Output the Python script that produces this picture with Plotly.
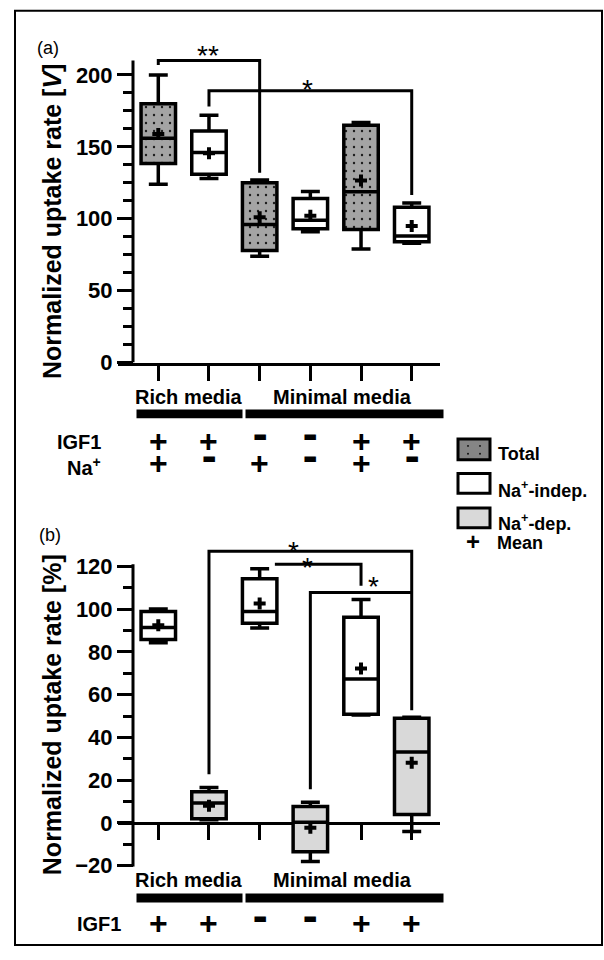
import plotly.graph_objects as go

W, H = 604, 960


def pxx(p):
    return p / W


def pxy(p):
    return 1 - p / H


FONT = "Liberation Sans, Arial, sans-serif"

# ---------------- data ----------------
conditions = ["Rich IGF1+ Na+", "Rich IGF1+ Na-", "Minimal IGF1- Na+",
              "Minimal IGF1- Na-", "Minimal IGF1+ Na+", "Minimal IGF1+ Na-"]
igf1_signs = ["+", "+", "-", "-", "+", "+"]
na_signs = ["+", "-", "+", "-", "+", "-"]
media_groups = ["Rich media", "Minimal media"]

# panel (a): uptake rate [V]
a_type = ["Total", "Na+-indep.", "Total", "Na+-indep.", "Total", "Na+-indep."]
a_min = [124, 128, 74, 91, 79, 83]
a_q1 = [138.5, 131, 78, 93, 92.5, 84]
a_med = [156, 146, 96, 99, 118.7, 88]
a_q3 = [180, 161, 125, 114, 165, 108]
a_max = [200, 172, 127, 119, 167, 111]
a_mean = [159, 145.5, 101, 102, 126.6, 95]

# panel (b): uptake rate [%]
b_type = ["Na+-indep.", "Na+-dep.", "Na+-indep.", "Na+-dep.", "Na+-indep.", "Na+-dep."]
b_min = [84.3, 1.5, 91.2, -18, 50.5, -4]
b_q1 = [85.8, 2, 93.5, -13.4, 50.9, 4]
b_med = [91.5, 9.4, 98.9, 0.3, 67.4, 33.2]
b_q3 = [98.9, 14.6, 114.3, 7.7, 96.3, 49]
b_max = [100.1, 16.6, 118.9, 9.7, 104.6, 49.5]
b_mean = [92.5, 8.1, 102.7, -2.2, 72.3, 28.2]

a_ticks = [0, 50, 100, 150, 200]
b_ticks = [-20, 0, 20, 40, 60, 80, 100, 120]

# significance brackets: (from idx, to idx, bar y, left end y, right end y, label, label x, label y)
brackets_a = [
    (0, 2, 210, 207, 132, "**", 1.98, 218.5),
    (1, 5, 189, 178, 116.5, "*", 3.95, 195.0),
]
brackets_b = [
    (1, 5, 127.1, 22.8, 52.8, "*", 3.66, 130.4),
    (2.3, 4, 121, 121, 111, "*", 3.95, 123.0),
    (3, 5, 107.8, 15.8, 107.8, "*", 5.25, 113.7),
]

# ---------------- layout geometry ----------------
pos = [i + 1 for i in range(len(conditions))]
XDOM = [pxx(118), pxx(440)]
XR = [0.205, 6.558]
A_YR = [0, 225]
A_DOM = [pxy(367.5), pxy(367.5 - 225 * 1.4575)]
B_YR = [-20.5, 134]
B_DOM = [pxy(878.7), pxy(878.7 - 154.5 * 2.1667)]
B_ZERO = B_DOM[0] + (0 - B_YR[0]) / (B_YR[1] - B_YR[0]) * (B_DOM[1] - B_DOM[0])

BOXW = 0.68
FILL = {"Total": "#a4a4a4", "Na+-indep.": "white", "Na+-dep.": "#d9d9d9"}

fig = go.Figure()


def add_panel(types, mins, q1, med, q3, maxs, means, xa, ya):
    for t in dict.fromkeys(types):
        idx = [i for i, tt in enumerate(types) if tt == t]
        xs = [pos[i] for i in idx]
        if t == "Total":
            fig.add_trace(go.Bar(
                x=xs, y=[q3[i] - q1[i] for i in idx], base=[q1[i] for i in idx],
                width=BOXW, xaxis=xa, yaxis=ya, showlegend=False, hoverinfo="skip",
                marker=dict(color=FILL[t], line=dict(width=0),
                            pattern=dict(shape=".", fgcolor="#1a1a1a", bgcolor=FILL[t],
                                         size=8, solidity=0.07, fillmode="replace"))))
        fig.add_trace(go.Box(
            x=xs, q1=[q1[i] for i in idx], median=[med[i] for i in idx],
            q3=[q3[i] for i in idx], lowerfence=[mins[i] for i in idx],
            upperfence=[maxs[i] for i in idx], width=BOXW, whiskerwidth=0.55,
            fillcolor="rgba(0,0,0,0)" if t == "Total" else FILL[t],
            line=dict(color="black", width=3.5), boxpoints=False,
            xaxis=xa, yaxis=ya, showlegend=False, name=t))
    fig.add_trace(go.Scatter(
        x=pos, y=means, mode="markers", xaxis=xa, yaxis=ya, showlegend=False,
        marker=dict(symbol="cross", size=10, color="black", line=dict(width=0))))


add_panel(a_type, a_min, a_q1, a_med, a_q3, a_max, a_mean, "x", "y")
add_panel(b_type, b_min, b_q1, b_med, b_q3, b_max, b_mean, "x2", "y2")

shapes = []
annotations = []


def line_shape(x0, y0, x1, y1, xref, yref, w=3):
    shapes.append(dict(type="line", x0=x0, y0=y0, x1=x1, y1=y1, xref=xref, yref=yref,
                       line=dict(color="black", width=w)))


def text(x, y, s, size, xref="paper", yref="paper", xanchor="center",
         yanchor="middle", weight="bold", angle=0, yshift=-4, family=FONT):
    annotations.append(dict(x=x, y=y, xref=xref, yref=yref, text=s, showarrow=False,
                            xanchor=xanchor, yanchor=yanchor, textangle=angle,
                            yshift=yshift,
                            font=dict(family=family, size=size, color="black", weight=weight)))


def bracket_shapes(brs, xref, yref):
    for (i0, i1, yb, yl, yr, lab, lx, ly) in brs:
        x0 = i0 + 1
        x1 = i1 + 1
        shapes.append(dict(type="path", xref=xref, yref=yref,
                           path=f"M {x0},{yl} L {x0},{yb} L {x1},{yb} L {x1},{yr}",
                           line=dict(color="black", width=3)))
        text(lx, ly, lab, 28, xref=xref, yref=yref, weight="normal", yshift=-7)


bracket_shapes(brackets_a, "x", "y")
bracket_shapes(brackets_b, "x2", "y2")

# y-axis lines (drawn as shapes so they stop at the top tick)
line_shape(pxx(133), 0, pxx(133), 210, "paper", "y", 3)
line_shape(pxx(133), B_YR[0], pxx(133), 121, "paper", "y2", 3)

# frame
shapes.append(dict(type="rect", xref="paper", yref="paper", x0=pxx(15), x1=pxx(602),
                   y0=pxy(958), y1=pxy(11), line=dict(color="black", width=2)))

# media bars + labels
for (bar_y0, bar_y1, lab_y) in [(415, 424, 398), (905.7, 915, 888)]:
    shapes.append(dict(type="rect", xref="paper", yref="paper", x0=pxx(136.5), x1=pxx(242.5),
                       y0=pxy(bar_y1), y1=pxy(bar_y0), fillcolor="black", line=dict(width=0)))
    shapes.append(dict(type="rect", xref="paper", yref="paper", x0=pxx(245.5), x1=pxx(443.5),
                       y0=pxy(bar_y1), y1=pxy(bar_y0), fillcolor="black", line=dict(width=0)))
    text(pxx(188.5), pxy(lab_y), media_groups[0], 20)
    text(pxx(342.5), pxy(lab_y), media_groups[1], 20)

# condition signs
for xr, rows in [("x", [(444, igf1_signs), (466, na_signs)]), ("x2", [(933, igf1_signs)])]:
    for (yy, signs) in rows:
        for p, s in zip(pos, signs):
            if s == "+":
                text(p, pxy(yy), "+", 32, xref=xr, yshift=-3)
            else:
                text(p, pxy(yy - 2), "▬", 15, xref=xr, weight="normal",
                     family="DejaVu Sans", yshift=0)
text(pxx(103), pxy(444), "IGF1", 20, xanchor="right")
text(pxx(103), pxy(466), "Na<sup>+</sup>", 20, xanchor="right", yshift=-7)
text(pxx(123), pxy(933), "IGF1", 20, xanchor="right")

# panel labels and titles
text(pxx(48), pxy(47), "(a)", 18, weight="normal", yshift=-2)
text(pxx(50), pxy(540), "(b)", 18, weight="normal", yshift=-2)
text(pxx(52), pxy(225), "Normalized uptake rate [<i>V</i>]", 25, angle=-90, yshift=0)
text(pxx(52), pxy(725), "Normalized uptake rate [%]", 25, angle=-90, yshift=0)

# legend
for (y0, y1, col) in [(445, 466, "#858585"), (480, 500, "white"), (515, 535, "#d9d9d9")]:
    shapes.append(dict(type="rect", xref="paper", yref="paper", x0=pxx(458), x1=pxx(490),
                       y0=pxy(y1), y1=pxy(y0), fillcolor=col, line=dict(color="black", width=3)))
for (dx, dy) in [(468, 452), (480, 452), (468, 460), (480, 460)]:
    shapes.append(dict(type="circle", xref="paper", yref="paper", x0=pxx(dx - 1), x1=pxx(dx + 1),
                       y0=pxy(dy + 1), y1=pxy(dy - 1), fillcolor="#111", line=dict(width=0)))
text(pxx(496), pxy(456), "Total", 18, xanchor="left")
text(pxx(496), pxy(490), "Na<sup>+</sup>-indep.", 18, xanchor="left", yshift=-6)
text(pxx(496), pxy(524), "Na<sup>+</sup>-dep.", 18, xanchor="left", yshift=-6)
text(pxx(473), pxy(546), "+", 24, yshift=-3)
text(pxx(495), pxy(546), "Mean", 18, xanchor="left")

common_x = dict(domain=XDOM, range=XR, tickvals=pos, showticklabels=False, ticks="outside",
                ticklen=15, tickwidth=3, tickcolor="black", showline=True, linewidth=3,
                linecolor="black", showgrid=False, zeroline=False, layer="below traces")
common_y = dict(ticks="outside", ticklen=16, tickwidth=3, tickcolor="black", showline=False,
                showgrid=False, zeroline=False, anchor="free", position=pxx(133),
                ticksuffix="\u00a0",
                tickfont=dict(family=FONT, size=22, color="black", weight="bold"),
                layer="below traces")

fig.update_layout(
    width=W, height=H, margin=dict(l=0, r=0, t=0, b=0),
    paper_bgcolor="white", plot_bgcolor="rgba(0,0,0,0)",
    barmode="overlay", boxmode="overlay", showlegend=False,
    font=dict(family=FONT, color="black"),
    xaxis=dict(anchor="y", **common_x),
    yaxis=dict(domain=A_DOM, range=A_YR, tickvals=a_ticks,
               minor=dict(tickvals=[v * 12.5 for v in range(1, 16) if v % 4],
                          ticks="outside", ticklen=10, tickwidth=3, tickcolor="black"),
               **common_y),
    xaxis2=dict(anchor="free", position=B_ZERO, **common_x),
    yaxis2=dict(domain=B_DOM, range=B_YR, tickvals=b_ticks,
                minor=dict(tickvals=list(range(-10, 120, 20)),
                           ticks="outside", ticklen=10, tickwidth=3, tickcolor="black"),
                **common_y),
    shapes=shapes, annotations=annotations,
)

fig.write_html("out.html")
